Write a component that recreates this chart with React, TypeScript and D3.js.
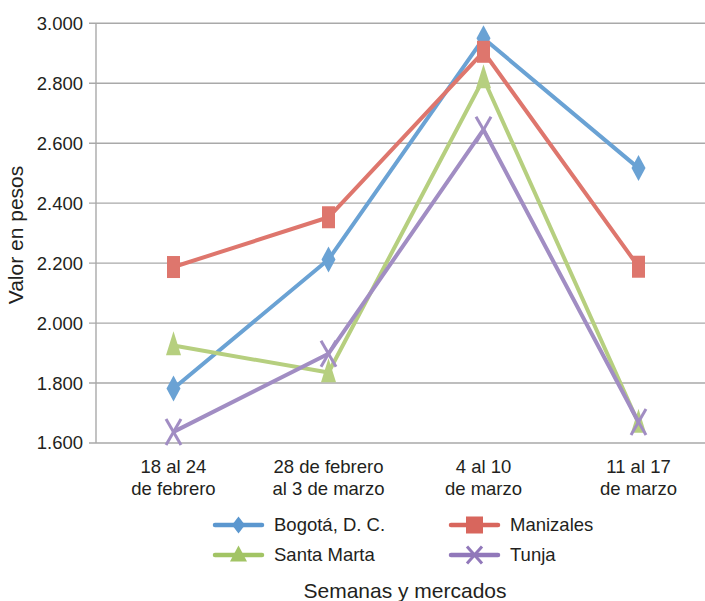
import React from "react";
import * as d3 from "d3";

const categories = [["18 al 24", "de febrero"], ["28 de febrero", "al 3 de marzo"], ["4 al 10", "de marzo"], ["11 al 17", "de marzo"]];
const bogota = [1782, 2212, 2950, 2517];
const manizales = [2187, 2353, 2905, 2188];
const santaMarta = [1925, 1835, 2815, 1666];
const tunja = [1637, 1898, 2645, 1670];
const yTicks = [1600, 1800, 2000, 2200, 2400, 2600, 2800, 3000];

const series = [
  { name: "Bogotá, D. C.", values: bogota, color: "#6aa2d4", legend: "#5b97cf", marker: "diamond" },
  { name: "Manizales", values: manizales, color: "#de766d", legend: "#d8665d", marker: "square" },
  { name: "Santa Marta", values: santaMarta, color: "#b6cf7f", legend: "#a2c465", marker: "triangle" },
  { name: "Tunja", values: tunja, color: "#a18dc3", legend: "#9178ba", marker: "x" },
];

const W = 705, H = 601;
const FONT = "'Liberation Sans', Arial, sans-serif";
const TXT = "#231f20";

function Marker({ type, x, y, color, w, h }: any) {
  if (type === "diamond") {
    return <path d={`M${x},${y - h / 2}L${x + w / 2},${y}L${x},${y + h / 2}L${x - w / 2},${y}Z`} fill={color} />;
  }
  if (type === "square") {
    return <rect x={x - w / 2} y={y - h / 2} width={w} height={h} fill={color} />;
  }
  if (type === "triangle") {
    return <path d={`M${x},${y - h * 0.6}L${x + w / 2},${y + h * 0.4}L${x - w / 2},${y + h * 0.4}Z`} fill={color} />;
  }
  return (
    <g stroke={color} strokeWidth={3}>
      <line x1={x - w / 2} y1={y - h / 2} x2={x + w / 2} y2={y + h / 2} />
      <line x1={x - w / 2} y1={y + h / 2} x2={x + w / 2} y2={y - h / 2} />
    </g>
  );
}

export default function App() {
  const x = d3.scaleBand<number>().domain(d3.range(categories.length)).range([96, 716]);
  const y = d3.scaleLinear().domain([1600, 3000]).range([443, 23.3]);
  const cx = (i: number) => (x(i) as number) + x.bandwidth() / 2;
  const line = d3.line<number>().x((_, i) => cx(i)).y((v) => y(v));

  const legendPos = [
    { lx: 215, ly: 525 },
    { lx: 451, ly: 525 },
    { lx: 215, ly: 555 },
    { lx: 451, ly: 555 },
  ];

  return (
    <svg width={W} height={H} style={{ position: "absolute", left: 0, top: 0, background: "#fff" }} fontFamily={FONT}>
      {yTicks.map((t) => (
        <g key={t}>
          <line x1={89} x2={W} y1={y(t)} y2={y(t)} stroke="#a9a9a9" strokeWidth={1.4} />
          <text x={83} y={y(t)} dy="0.35em" textAnchor="end" fontSize={18.5} fill={TXT}>
            {d3.format(",")(t).replace(",", ".")}
          </text>
        </g>
      ))}
      <line x1={96} x2={96} y1={y(3000)} y2={y(1600)} stroke="#a9a9a9" strokeWidth={1.4} />
      {categories.map((c, i) => (
        <text key={i} x={cx(i)} y={473} textAnchor="middle" fontSize={18.5} fill={TXT}>
          <tspan x={cx(i)}>{c[0]}</tspan>
          <tspan x={cx(i)} dy={22}>{c[1]}</tspan>
        </text>
      ))}
      <text transform="translate(23,235) rotate(-90)" textAnchor="middle" fontSize={21} fill={TXT}>Valor en pesos</text>
      {series.map((s) => (
        <g key={s.name}>
          <path d={line(s.values) || ""} fill="none" stroke={s.color} strokeWidth={4} strokeLinejoin="round" />
          {s.values.map((v, i) => {
            const sz: any = { diamond: [14, 26], square: [13, 22], triangle: [15, 24], x: [15, 26] }[s.marker];
            return <Marker key={i} type={s.marker} x={cx(i)} y={y(v)} color={s.color} w={sz[0]} h={sz[1]} />;
          })}
        </g>
      ))}
      {series.map((s, i) => {
        const p = legendPos[i];
        const sz: any = { diamond: [13, 17], square: [17, 17], triangle: [17, 16], x: [15, 17] }[s.marker];
        return (
          <g key={s.name}>
            <line x1={p.lx} x2={p.lx + 47} y1={p.ly} y2={p.ly} stroke={s.legend} strokeWidth={4.5} strokeLinecap="round" />
            <Marker type={s.marker} x={p.lx + 23.5} y={p.ly} color={s.legend} w={sz[0]} h={sz[1]} />
            <text x={p.lx + 59} y={p.ly} dy="0.35em" fontSize={18.5} fill={TXT}>{s.name}</text>
          </g>
        );
      })}
      <text x={405} y={598} textAnchor="middle" fontSize={21} fill={TXT}>Semanas y mercados</text>
    </svg>
  );
}
